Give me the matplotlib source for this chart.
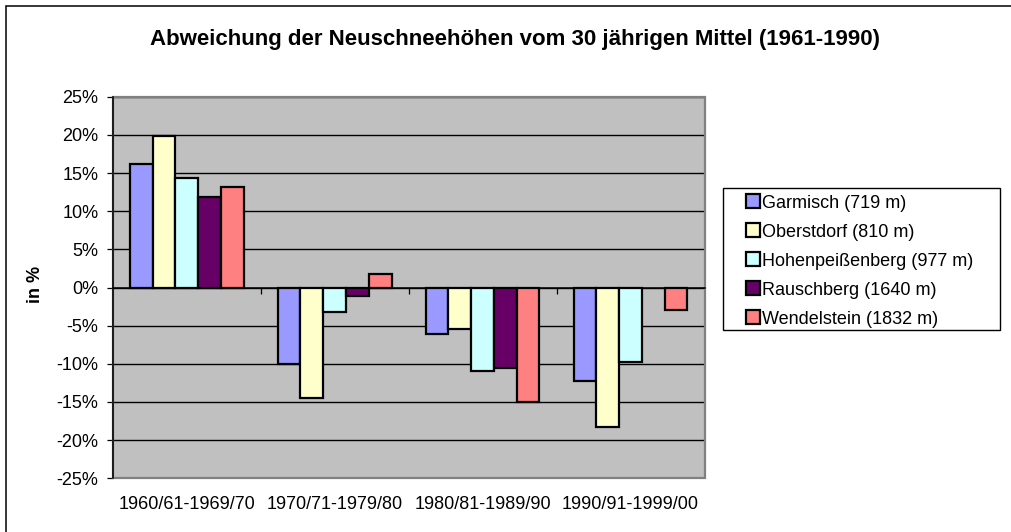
import numpy as np
import matplotlib
matplotlib.use("Agg")
import matplotlib.pyplot as plt
from matplotlib.patches import Rectangle
from matplotlib.ticker import FuncFormatter

plt.rcParams['font.family'] = ['Liberation Sans', 'DejaVu Sans']

title = "Abweichung der Neuschneehöhen vom 30 jährigen Mittel (1961-1990)"
ylabel = "in %"
categories = ["1960/61-1969/70", "1970/71-1979/80", "1980/81-1989/90", "1990/91-1999/00"]
series_names = ["Garmisch (719 m)", "Oberstdorf (810 m)", "Hohenpeißenberg (977 m)",
                "Rauschberg (1640 m)", "Wendelstein (1832 m)"]
garmisch = [16.2, -10.0, -6.1, -12.2]
oberstdorf = [19.9, -14.5, -5.4, -18.3]
hohenpeissenberg = [14.3, -3.2, -10.9, -9.7]
rauschberg = [11.8, -1.1, -10.6, np.nan]
wendelstein = [13.2, 1.8, -15.0, -2.9]
series_values = [garmisch, oberstdorf, hohenpeissenberg, rauschberg, wendelstein]
colors = ["#9999FF", "#FFFFCC", "#CCFFFF", "#660066", "#FF8080"]
yticks = list(range(-25, 30, 5))

W, H = 1011, 532
fig = plt.figure(figsize=(W / 100, H / 100), dpi=100)
fig.patch.set_facecolor("white")

# outer chart border (left/top visible)
fig.add_artist(Rectangle((6 / W, -0.05), 1.2, 1 - 6 / H + 0.05, transform=fig.transFigure,
                         fill=False, edgecolor="black", linewidth=1.1))

ax = fig.add_axes([112.7 / W, 1 - 478.3 / H, (704.5 - 112.7) / W, (478.3 - 96.7) / H])
ax.set_facecolor("#C0C0C0")

n = len(series_values)
gap = 1.5
bw = 1.0 / (n + gap)
x = np.arange(len(categories))
handles = []
for i, (vals, col, name) in enumerate(zip(series_values, colors, series_names)):
    offs = (i - (n - 1) / 2) * bw
    b = ax.bar(x + offs, vals, width=bw, color=col, edgecolor="black", linewidth=1.6,
               label=name, zorder=3)
    handles.append(b)

ax.set_xlim(-0.5, len(categories) - 0.5)
ax.set_ylim(-25, 25)
ax.set_yticks(yticks)
ax.yaxis.set_major_formatter(FuncFormatter(lambda v, p: f"{int(round(v))}%"))
ax.yaxis.grid(True, color="black", linewidth=1.0, zorder=1)
ax.set_axisbelow(True)
ax.tick_params(axis="y", direction="out", length=4.3, width=0.9, pad=6,
               labelsize=13, color="black")

# plot area border
ax.add_patch(Rectangle((0, 0), 1, 1, transform=ax.transAxes, fill=False,
                       edgecolor="#808080", linewidth=1.6, zorder=4, clip_on=False))
for s in ["top", "right"]:
    ax.spines[s].set_visible(False)
ax.spines["left"].set_color("black")
ax.spines["left"].set_linewidth(1.1)
ax.spines["left"].set_zorder(5)
ax.spines["bottom"].set_position(("data", 0))
ax.spines["bottom"].set_color("black")
ax.spines["bottom"].set_linewidth(1.1)
ax.spines["bottom"].set_zorder(5)

ax.set_xticks(np.arange(len(categories) - 1) + 0.5)
ax.set_xticklabels([])
ax.tick_params(axis="x", direction="out", length=4.3, width=0.9, color="black")

trans = matplotlib.transforms.blended_transform_factory(ax.transData, ax.transAxes)
for xi, lab in zip(x, categories):
    ax.text(xi, -0.0687, lab, transform=trans, ha="center", va="center", fontsize=13)

fig.text(36 / W, 1 - 284 / H, ylabel, rotation=90, ha="center", va="center",
         fontsize=13, fontweight="bold")
fig.text(515.5 / W, 1 - 39 / H, title, ha="center", va="center", fontsize=16,
         fontweight="bold")

# legend frame
fig.add_artist(Rectangle((722.7 / W, 1 - 330 / H), (1000 - 722.7) / W, (330 - 188) / H,
                         transform=fig.transFigure, facecolor="white", edgecolor="black",
                         linewidth=1.0, zorder=2))
leg = fig.legend(handles=handles, labels=series_names, loc="upper left",
                 bbox_to_anchor=(746 / W, 1 - 194.5 / H), borderaxespad=0,
                 fontsize=13, frameon=False,
                 handlelength=0.78, handleheight=0.78, handletextpad=0.12,
                 labelspacing=0.66, borderpad=0.0)
leg.set_zorder(3)

fig.savefig("out.png", dpi=100, facecolor="white")
